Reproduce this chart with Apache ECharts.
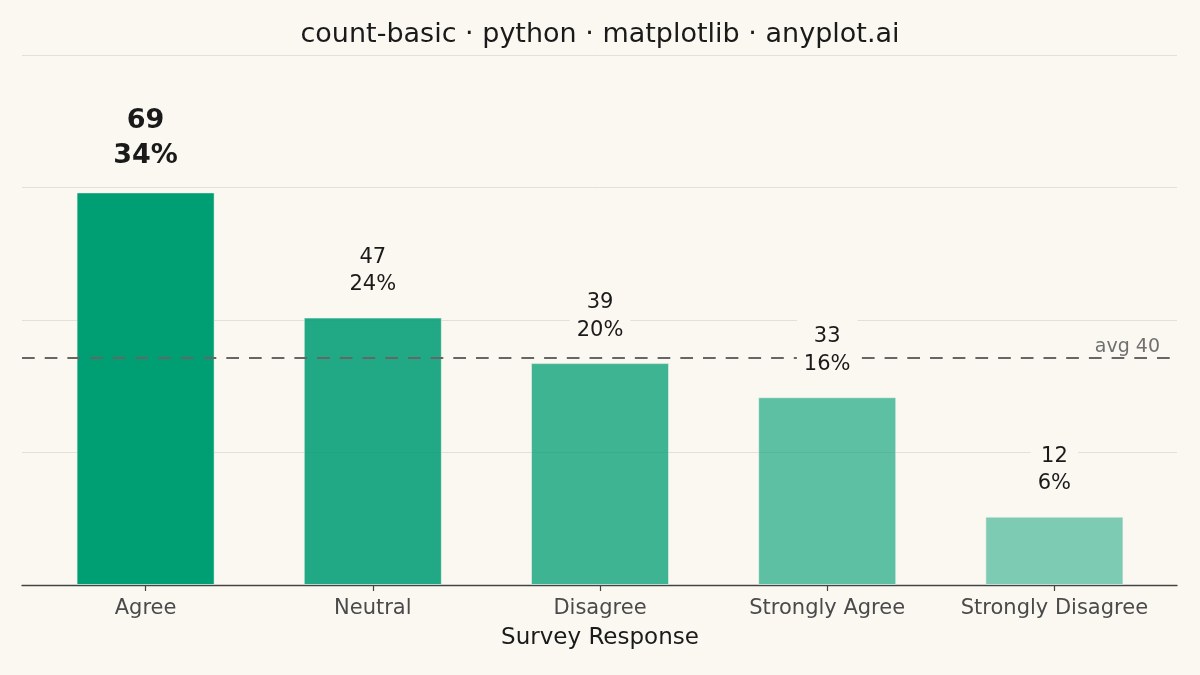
<!DOCTYPE html>
<html><head><meta charset="utf-8">
<script src="https://cdn.jsdelivr.net/npm/echarts@6/dist/echarts.min.js"></script>
<style>html,body{margin:0;padding:0;background:#FAF8F1}#c{width:1200px;height:675px}</style>
</head><body><div id="c"></div>
<script>
// ---- data ----
const categories = ['Agree', 'Neutral', 'Disagree', 'Strongly Agree', 'Strongly Disagree'];
const counts = [69, 47, 39, 33, 12];
const pctLabels = ['34%', '24%', '20%', '16%', '6%'];
const avgValue = 40;
const yMax = 93.15;

// ---- style ----
const BG = '#FAF8F1';
const FONT = 'DejaVu Sans';
const opacities = [1, 0.875, 0.75, 0.625, 0.5];

const normalLabel = {
  show: true, position: 'top', distance: 14,
  fontFamily: FONT, fontSize: 21, lineHeight: 27.5, color: '#1a1a1a',
  backgroundColor: BG, padding: [5, 7, 5, 7]
};
const boldLabel = Object.assign({}, normalLabel, {fontSize: 27, lineHeight: 35, fontWeight: 'bold'});

const chart = echarts.init(document.getElementById('c'));
chart.setOption({
  backgroundColor: BG,
  animation: false,
  title: {
    text: 'count-basic · python · matplotlib · anyplot.ai',
    left: 'center', top: 15,
    textStyle: {fontFamily: FONT, fontSize: 27, fontWeight: 'normal', color: '#1a1a1a', lineHeight: 30}
  },
  grid: [
    {left: 22, right: 23, top: 55, bottom: 90},
    {left: 32, right: 32, top: 55, bottom: 90}
  ],
  xAxis: [
    {gridIndex: 0, type: 'value', min: 0, max: 1,
     axisLine: {show: true, lineStyle: {color: '#444', width: 1.3}},
     axisTick: {show: false}, axisLabel: {show: false}, splitLine: {show: false}},
    {gridIndex: 1, type: 'category', data: categories,
     axisLine: {show: false},
     axisTick: {show: true, alignWithLabel: true, length: 6, lineStyle: {color: '#444', width: 1.2}},
     axisLabel: {interval: 0, fontFamily: FONT, fontSize: 21, color: '#4a4a4a', margin: 13},
     name: 'Survey Response', nameLocation: 'middle', nameGap: 42,
     nameTextStyle: {fontFamily: FONT, fontSize: 23, color: '#1a1a1a'}}
  ],
  yAxis: [
    {gridIndex: 0, type: 'value', min: 0, max: yMax, interval: yMax / 4,
     axisLine: {show: false}, axisTick: {show: false}, axisLabel: {show: false},
     splitLine: {show: true, lineStyle: {color: '#E3E0D7', width: 1}}},
    {gridIndex: 1, type: 'value', min: 0, max: yMax, show: false, splitLine: {show: false}}
  ],
  series: [
    {
      type: 'bar', xAxisIndex: 1, yAxisIndex: 1, z: 2, barWidth: 138,
      data: counts.map((v, i) => ({
        value: v,
        itemStyle: {color: 'rgba(0,158,115,' + opacities[i] + ')', borderColor: 'rgba(250,248,241,0.5)', borderWidth: 1}
      })),
      label: {show: false}
    },
    {
      type: 'line', xAxisIndex: 0, yAxisIndex: 0, z: 3, silent: true,
      data: [[0, avgValue]], showSymbol: false, symbol: 'none', lineStyle: {opacity: 0},
      markLine: {
        silent: true, symbol: ['none', 'none'],
        lineStyle: {type: [12.7, 10], color: '#666', width: 2},
        label: {show: true, position: 'insideEndTop', formatter: 'avg ' + avgValue,
                fontFamily: FONT, fontSize: 19, color: '#707070', distance: [17, 1]},
        data: [[{coord: [0, avgValue]}, {coord: [1, avgValue]}]]
      }
    },
    {
      type: 'bar', xAxisIndex: 1, yAxisIndex: 1, z: 10, barWidth: 138, barGap: '-100%',
      silent: true,
      itemStyle: {color: 'rgba(0,0,0,0)'},
      data: counts.map((v, i) => ({value: v, label: i === 0 ? boldLabel : normalLabel})),
      label: Object.assign({}, normalLabel, {
        formatter: p => counts[p.dataIndex] + '\n' + pctLabels[p.dataIndex]
      })
    }
  ]
});
</script></body></html>
